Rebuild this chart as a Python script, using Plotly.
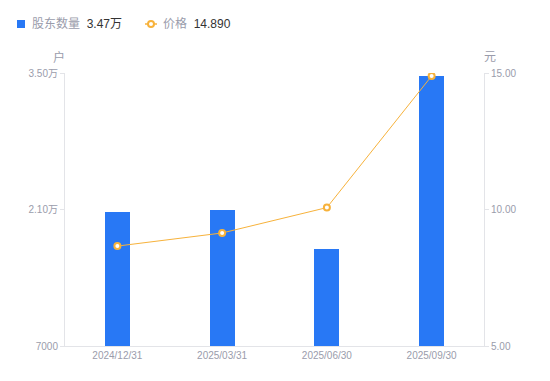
import plotly.graph_objects as go

dates = ["2024/12/31", "2025/03/31", "2025/06/30", "2025/09/30"]
shareholders = [20700, 20950, 17000, 34700]
price = [8.66, 9.14, 10.07, 14.89]

left_ticks = [7000, 21000, 35000]
left_labels = ["7000", "2.10万", "3.50万"]
right_ticks = [5, 10, 15]
right_labels = ["5.00", "10.00", "15.00"]

BLUE = "#2878f5"
ORANGE = "#f7b23b"
GRAY = "#9a9cab"
AXIS = "#e3e4e8"
FONT = "Liberation Sans, Noto Sans CJK SC, sans-serif"

# page body has an 8px default margin; lay out in on-screen pixels
OFF = 8
W, H = 550, 381
PL, PR, PT, PB = 65, 484, 73, 346  # plot area on screen
ML, MT = PL - OFF, PT - OFF
MR, MB = W - (PR - OFF), H - (PB - OFF)
PW, PH = PR - PL, PB - PT


def px(x):
    return (x - PL) / PW


def py(y):
    return (PB - y) / PH


fig = go.Figure()
fig.add_trace(go.Bar(x=dates, y=shareholders, marker=dict(color=BLUE, line=dict(width=0)),
                     width=0.24, yaxis="y", showlegend=False))
fig.add_trace(go.Scatter(x=dates, y=price, mode="lines+markers", yaxis="y2",
                         line=dict(color=ORANGE, width=1),
                         marker=dict(size=6, color="white", line=dict(color=ORANGE, width=2)),
                         showlegend=False))

fig.update_layout(
    width=W, height=H,
    margin=dict(l=ML, r=MR, t=MT, b=MB, autoexpand=False),
    paper_bgcolor="white", plot_bgcolor="white",
    font=dict(family=FONT, size=10, color=GRAY),
    bargap=0,
    xaxis=dict(type="category", range=[-0.5, 3.5], showgrid=False,
               showline=True, linecolor=AXIS, linewidth=1, ticks="",
               tickfont=dict(size=10, color=GRAY), automargin=False),
    yaxis=dict(range=[7000, 35000], tickvals=left_ticks, ticktext=left_labels,
               showgrid=False, showline=True, linecolor=AXIS, linewidth=1,
               ticks="outside", ticklen=4, tickcolor=AXIS, zeroline=False,
               tickfont=dict(size=10, color=GRAY), automargin=False),
    yaxis2=dict(range=[5, 15], tickvals=right_ticks, ticktext=right_labels,
                overlaying="y", side="right", showgrid=False, showline=True,
                linecolor=AXIS, linewidth=1, ticks="outside", ticklen=4,
                tickcolor=AXIS, zeroline=False, tickfont=dict(size=10, color=GRAY),
                automargin=False),
)

# unit labels
fig.add_annotation(text="户", xref="paper", yref="paper", x=px(59), y=py(57),
                   showarrow=False, xanchor="center", yanchor="middle",
                   font=dict(size=12, color=GRAY, family=FONT))
fig.add_annotation(text="元", xref="paper", yref="paper", x=px(490), y=py(57),
                   showarrow=False, xanchor="center", yanchor="middle",
                   font=dict(size=12, color=GRAY, family=FONT))

# custom legend
LY = 24
fig.add_shape(type="rect", xref="paper", yref="paper",
              x0=px(17), x1=px(25), y0=py(LY + 4), y1=py(LY - 4),
              line=dict(width=0), fillcolor=BLUE)
fig.add_annotation(
    text="股东数量  <span style='color:#333'>%.2f万</span>" % (shareholders[-1] / 10000),
    xref="paper", yref="paper", x=px(30), y=py(LY), showarrow=False,
    xanchor="left", yanchor="middle", font=dict(size=12, color=GRAY, family=FONT))
fig.add_shape(type="line", xref="paper", yref="paper", x0=px(145), x1=px(157),
              y0=py(LY), y1=py(LY), line=dict(color=ORANGE, width=1.5))
fig.add_shape(type="circle", xref="paper", yref="paper",
              x0=px(148), x1=px(154), y0=py(LY + 3), y1=py(LY - 3),
              line=dict(color=ORANGE, width=2), fillcolor="white")
fig.add_annotation(
    text="价格  <span style='color:#333'>%.3f</span>" % price[-1],
    xref="paper", yref="paper", x=px(161), y=py(LY), showarrow=False,
    xanchor="left", yanchor="middle", font=dict(size=12, color=GRAY, family=FONT))

fig.write_html("out.html")
